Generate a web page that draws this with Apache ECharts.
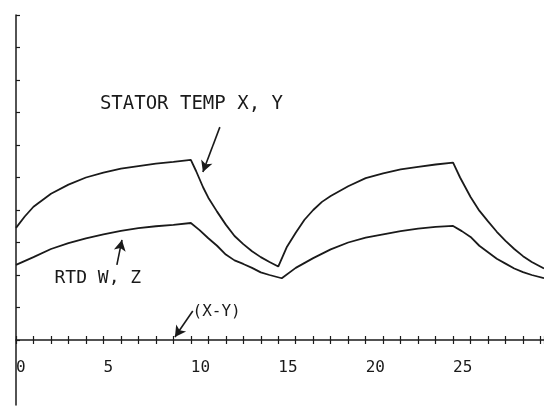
<!DOCTYPE html>
<html>
<head>
<meta charset="utf-8">
<script src="https://cdn.jsdelivr.net/npm/echarts@6/dist/echarts.min.js"></script>
<style>html,body{margin:0;padding:0;background:#fff}#c{width:544px;height:406px}</style>
</head>
<body>
<div id="c"></div>
<script>
// Stator temperature X, Y
const statorX = [0, 0.5, 1, 2, 3, 4, 5, 6, 7, 8, 9, 10,
  10.3, 10.7, 11, 11.5, 12, 12.5, 13, 13.5, 14, 14.5, 15,
  15.5, 16, 16.5, 17, 17.5, 18, 19, 20, 21, 22, 23, 24, 25,
  25.4, 26, 26.5, 27, 27.5, 28, 28.5, 29, 29.5, 30.2];
const statorY = [3.45, 3.8, 4.1, 4.5, 4.78, 5.0, 5.15, 5.27, 5.35, 5.43, 5.48, 5.54,
  5.2, 4.7, 4.38, 3.95, 3.55, 3.2, 2.95, 2.73, 2.55, 2.4, 2.26,
  2.87, 3.3, 3.7, 4.0, 4.25, 4.43, 4.73, 4.98, 5.13, 5.25, 5.33, 5.4, 5.46,
  5.0, 4.4, 3.98, 3.65, 3.33, 3.05, 2.8, 2.58, 2.4, 2.2];
// RTD W, Z
const rtdX = [0, 1, 2, 3, 4, 5, 6, 7, 8, 9, 10,
  10.5, 11, 11.5, 12, 12.5, 13, 13.5, 14, 14.5, 15.2,
  16, 17, 18, 19, 20, 21, 22, 23, 24, 25,
  25.5, 26, 26.5, 27, 27.5, 28, 28.5, 29, 29.5, 30.2];
const rtdY = [2.31, 2.55, 2.8, 2.98, 3.13, 3.25, 3.36, 3.44, 3.5, 3.54, 3.6,
  3.38, 3.13, 2.9, 2.63, 2.45, 2.34, 2.22, 2.08, 2.0, 1.9,
  2.22, 2.52, 2.79, 3.0, 3.15, 3.25, 3.35, 3.43, 3.48, 3.51,
  3.35, 3.17, 2.9, 2.7, 2.5, 2.35, 2.2, 2.09, 2.0, 1.9];
// X tick labels shown on the axis
const xTickLabels = ['0', '5', '10', '15', '20', '25'];
// Y ticks drawn on the vertical axis
const yTickValues = [0, 1, 2, 3, 4, 5, 6, 7, 8, 9, 10];
// Annotation texts and arrows (data coordinates: [from, to])
const labelStator = 'STATOR TEMP X, Y';
const labelRtd = 'RTD W, Z';
const labelDiff = '(X-Y)';
const arrowStator = [[11.66, 6.55], [10.69, 5.17]];
const arrowRtd = [[5.77, 2.31], [6.06, 3.08]];
const arrowDiff = [[10.11, 0.89], [9.09, 0.09]];
const xMin = 0, xMax = 30.2, yMin = -2, yMax = 10;

const FONT = '"DejaVu Sans Mono", "Liberation Mono", monospace';
const INK = '#1a1a1a';
const W = 544, H = 406, GT = 15, GB = 1;
const zeroOffset = -(H - GT - GB) * (0 - yMin) / (yMax - yMin);
const chart = echarts.init(document.getElementById('c'), null, {renderer: 'canvas'});
const pair = (xs, ys) => xs.map((x, i) => [x, ys[i]]);
const arrowLine = (a, curv) => [{coord: a[0], symbol: 'none'}, {coord: a[1], symbol: 'arrow', lineStyle: {curveness: curv}}];

chart.setOption({
  animation: false,
  backgroundColor: '#fff',
  grid: {left: 16, right: 0, top: GT, bottom: GB, containLabel: false, outerBoundsMode: 'none'},
  xAxis: [{
    type: 'value', min: xMin, max: xMax, interval: 1, position: 'bottom',
    axisLine: {onZero: true, onZeroAxisIndex: 0, lineStyle: {color: INK, width: 1.5}},
    axisTick: {show: true, inside: true, length: 4, lineStyle: {color: INK, width: 1.2}},
    axisLabel: {show: false},
    splitLine: {show: false}
  }, {
    type: 'value', min: xMin, max: xMax, interval: 1, position: 'bottom', offset: zeroOffset,
    axisLine: {show: false, onZero: false},
    axisTick: {show: true, inside: false, length: 4, lineStyle: {color: INK, width: 1.2}},
    axisLabel: {
      show: true, margin: 20, align: 'left', color: INK,
      fontFamily: FONT, fontSize: 16, showMinLabel: true, hideOverlap: false,
      formatter: v => xTickLabels.indexOf(String(v)) >= 0 ? String(v) : ''
    },
    splitLine: {show: false}
  }],
  yAxis: {
    type: 'value', min: yMin, max: yMax, interval: 1,
    axisLine: {show: true, onZero: false, lineStyle: {color: INK, width: 1.5}},
    axisTick: {show: true, inside: true, length: 4, customValues: yTickValues, lineStyle: {color: INK, width: 1.2}},
    axisLabel: {show: false},
    splitLine: {show: false}
  },
  series: [{
    type: 'line', data: pair(statorX, statorY), showSymbol: false,
    lineStyle: {color: INK, width: 1.8},
    markLine: {
      silent: true, symbolSize: [9, 11],
      lineStyle: {color: INK, width: 1.6, type: 'solid'},
      label: {show: false},
      data: [arrowLine(arrowStator, 0.12), arrowLine(arrowRtd, -0.15), arrowLine(arrowDiff, 0.05)]
    }
  }, {
    type: 'line', data: pair(rtdX, rtdY), showSymbol: false,
    lineStyle: {color: INK, width: 1.8}
  }]
});

const px = (x, y) => chart.convertToPixel({gridIndex: 0}, [x, y]);
const p1 = px(4.8, 7.25), p2 = px(2.2, 1.9), p3 = px(10.1, 0.88);
chart.setOption({
  graphic: [
    {type: 'text', x: p1[0], y: p1[1], style: {text: labelStator, font: '19px ' + FONT, fill: INK, textVerticalAlign: 'middle'}},
    {type: 'text', x: p2[0], y: p2[1], style: {text: labelRtd, font: '18px ' + FONT, fill: INK, textVerticalAlign: 'middle'}},
    {type: 'text', x: p3[0], y: p3[1], style: {text: labelDiff, font: '16px ' + FONT, fill: INK, textVerticalAlign: 'middle'}}
  ]
});
</script>
</body>
</html>
